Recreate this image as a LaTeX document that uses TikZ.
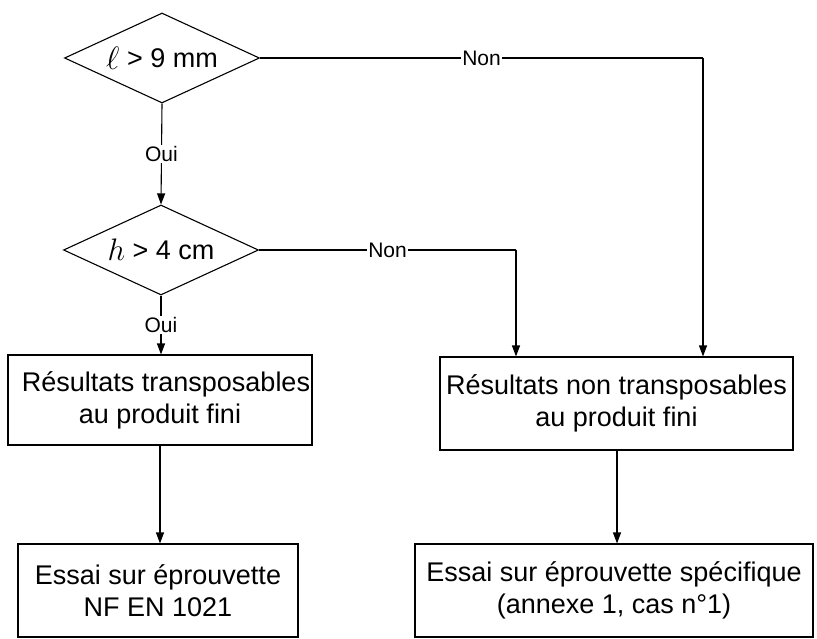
\documentclass[tikz,border=0pt]{standalone}
\usepackage{fontspec}
\setmainfont{Liberation Sans}
\usetikzlibrary{shapes.geometric,arrows.meta}
\begin{document}
\begin{tikzpicture}[x=1pt,y=-1pt,
  every node/.style={font=\fontsize{27}{32}\selectfont},
  dec/.style={draw, shape=diamond, aspect=2.17, minimum width=195pt, minimum height=90pt, inner sep=0pt, line width=1.1pt},
  box/.style={draw, rectangle, line width=1.1pt, align=center, inner sep=0pt},
  lab/.style={font=\fontsize{21}{23}\selectfont, fill=white, inner sep=1pt},
  arr/.style={line width=1.1pt, -{Triangle[length=11pt,width=8pt]}},
  ln/.style={line width=1.1pt}]
\useasboundingbox (0,0) rectangle (817,639);

\node[dec] (d1) at (162,58) {\raisebox{-2pt}{\scalebox{1.3}{$\ell$}} > 9 mm};
\node[dec] (d2) at (161,250) {\raisebox{-1pt}{\scalebox{1.25}{$h$}} > 4 cm};

\node[box, minimum width=304pt, minimum height=90pt] (b1) at (160,400) {\hspace*{12pt}Résultats transposables\\au produit fini};
\node[box, minimum width=353pt, minimum height=93pt] (b2) at (616.5,403.5) {Résultats non transposables\\au produit fini};
\node[box, minimum width=280pt, minimum height=93pt] (b3) at (158,590.5) {Essai sur éprouvette\\NF EN 1021};
\node[box, minimum width=398pt, minimum height=93pt] (b4) at (614,590.5) {Essai sur éprouvette spécifique\\(annexe 1, cas n°1)};

\coordinate (c1) at (703,58);
\coordinate (c2) at (516,250);

\draw[arr] (d1.south) -- node[lab] {Oui} (d2.north);
\draw[arr] (d2.south) -- node[lab] {Oui} (d2.south |- b1.north);
\draw[ln] (d1.east) -- node[lab] {Non} (c1);
\draw[arr] (c1) -- (c1 |- b2.north);
\draw[ln] (d2.east) -- node[lab] {Non} (c2);
\draw[arr] (c2) -- (c2 |- b2.north);
\draw[arr] (b1.south) -- (b1.south |- b3.north);
\draw[arr] ([xshift=0.5pt]b2.south) -- ([xshift=0.5pt]b2.south |- b4.north);
\end{tikzpicture}
\end{document}
